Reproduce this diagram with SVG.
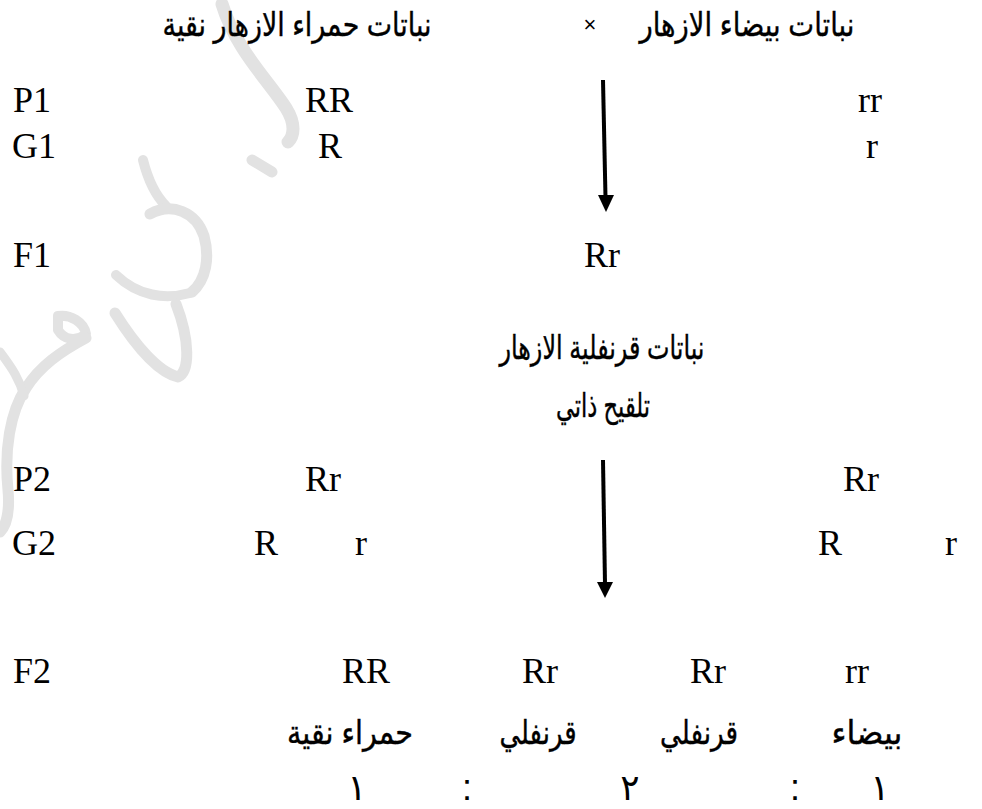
<svg xmlns="http://www.w3.org/2000/svg" width="982" height="809" viewBox="0 0 982 809">
<style>
.lat{font-family:"Liberation Serif","Times New Roman",serif;font-size:36px;fill:#000}
.ar{font-family:"Liberation Sans","DejaVu Sans",Arial,sans-serif;font-size:33px;fill:#000;stroke:#000;stroke-width:0.4}
.num{font-family:"Liberation Sans","DejaVu Sans",Arial,sans-serif;font-size:36px;fill:#000}
.wm{fill:none;stroke:#e2e2e2;stroke-linecap:round;stroke-linejoin:round}
.conn{stroke:#000;stroke-width:4;fill:none}
.head{fill:#000}
</style>
<rect width="982" height="809" fill="#fff"/>
<g id="watermark">
<path class="wm" stroke-width="13" d="M222,4 C236,50 268,80 286,108 C296,124 294,136 288,142"/>
<path class="wm" stroke-width="11" d="M252,160 L272,172"/>
<path class="wm" stroke-width="10" d="M143,160 C148,180 155,195 166,206"/>
<path class="wm" stroke-width="11" d="M150,214 C172,202 196,212 204,236 C210,258 206,280 192,292"/>
<path class="wm" stroke-width="10" d="M116,275 C138,296 165,300 190,293"/>
<path class="wm" stroke-width="11" d="M115,313 C135,345 158,372 178,377 C190,372 190,340 176,304"/>
<path class="wm" stroke-width="10" d="M58,316 C70,314 84,322 86,334 C76,342 64,340 58,330 Z"/>
<path class="wm" stroke-width="11" d="M86,338 C60,352 40,366 26,388 C10,412 4,450 8,490 C10,512 6,526 0,532"/>
<path class="wm" stroke-width="9" d="M0,352 C12,368 20,380 24,396"/>
</g>
<g id="connectors">
<line class="conn" x1="603" y1="80" x2="605.5" y2="198"/>
<polygon class="head" points="598,195 614,195 606,212"/>
<line class="conn" x1="603" y1="460" x2="605" y2="584"/>
<polygon class="head" points="597,582 613,582 605,598"/>
</g>
<g id="header">
<text class="ar" x="297" y="36" text-anchor="middle" direction="rtl" textLength="269" lengthAdjust="spacingAndGlyphs">نباتات حمراء الازهار نقية</text>
<text x="590" y="32" text-anchor="middle" font-family="Liberation Sans, sans-serif" font-size="22">×</text>
<text class="ar" x="747" y="36" text-anchor="middle" direction="rtl" textLength="215" lengthAdjust="spacingAndGlyphs">نباتات بيضاء الازهار</text>
</g>
<g id="p1">
<text class="lat" x="13" y="112">P1</text>
<text class="lat" x="305" y="112">RR</text>
<text class="lat" x="858" y="112">rr</text>
</g>
<g id="g1">
<text class="lat" x="12" y="158">G1</text>
<text class="lat" x="318" y="158">R</text>
<text class="lat" x="866" y="158">r</text>
</g>
<g id="f1">
<text class="lat" x="13" y="267">F1</text>
<text class="lat" x="584" y="267">Rr</text>
<text class="ar" x="602" y="359" text-anchor="middle" direction="rtl" textLength="205" lengthAdjust="spacingAndGlyphs">نباتات قرنفلية الازهار</text>
<text class="ar" x="603" y="417" text-anchor="middle" direction="rtl" textLength="94" lengthAdjust="spacingAndGlyphs">تلقيح ذاتي</text>
</g>
<g id="p2">
<text class="lat" x="13" y="491">P2</text>
<text class="lat" x="305" y="491">Rr</text>
<text class="lat" x="843" y="491">Rr</text>
</g>
<g id="g2">
<text class="lat" x="12" y="555">G2</text>
<text class="lat" x="254" y="555">R</text>
<text class="lat" x="355" y="555">r</text>
<text class="lat" x="818" y="555">R</text>
<text class="lat" x="945" y="555">r</text>
</g>
<g id="f2">
<text class="lat" x="13" y="683">F2</text>
<text class="lat" x="342" y="683">RR</text>
<text class="lat" x="522" y="683">Rr</text>
<text class="lat" x="690" y="683">Rr</text>
<text class="lat" x="845" y="683">rr</text>
<text class="ar" x="350" y="744" text-anchor="middle" direction="rtl" textLength="126" lengthAdjust="spacingAndGlyphs">حمراء نقية</text>
<text class="ar" x="538" y="744" text-anchor="middle" direction="rtl" textLength="77" lengthAdjust="spacingAndGlyphs">قرنفلي</text>
<text class="ar" x="699" y="744" text-anchor="middle" direction="rtl" textLength="78" lengthAdjust="spacingAndGlyphs">قرنفلي</text>
<text class="ar" x="867" y="744" text-anchor="middle" direction="rtl" textLength="71" lengthAdjust="spacingAndGlyphs">بيضاء</text>
</g>
<g id="ratio">
<text class="num" x="357" y="800" text-anchor="middle">١</text>
<text class="num" x="467" y="800" text-anchor="middle">:</text>
<text class="num" x="630" y="800" text-anchor="middle">٢</text>
<text class="num" x="795" y="800" text-anchor="middle">:</text>
<text class="num" x="880" y="800" text-anchor="middle">١</text>
</g>
</svg>
